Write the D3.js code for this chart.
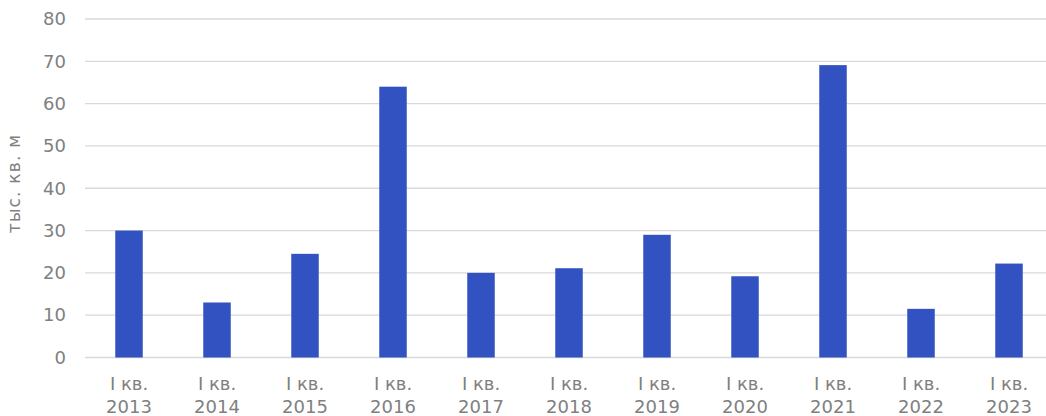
<!DOCTYPE html>
<html><head><meta charset="utf-8">
<script src="https://cdn.jsdelivr.net/npm/d3@7"></script>
<style>body{margin:0;background:#fff}svg{display:block}</style>
</head><body>
<svg id="c" width="1046" height="416"></svg>
<script>
const categories = ["2013","2014","2015","2016","2017","2018","2019","2020","2021","2022","2023"];
const quarterLabel = "I кв.";
const values = [30.0, 13.0, 24.5, 64.0, 20.0, 21.1, 29.0, 19.2, 69.1, 11.5, 22.2];
const yTicks = [0,10,20,30,40,50,60,70,80];
const yTitle = "тыс. кв. м";

const svg = d3.select("#c");
const font = "Verdana, 'DejaVu Sans', sans-serif";
const x = d3.scaleBand().domain(categories).range([85, 1053]).paddingInner(0.6875).paddingOuter(0.34375);
const y = d3.scaleLinear().domain([0,80]).range([357.5, 19]);

const grid = svg.append("g");
grid.selectAll("line").data(yTicks).join("line")
  .attr("x1",85).attr("x2",1046)
  .attr("y1",d=>y(d)).attr("y2",d=>y(d))
  .attr("stroke","#d9d9d9").attr("stroke-width",1.3);

const yAxis = svg.append("g").attr("transform","translate(85,0)")
  .call(d3.axisLeft(y).tickValues(yTicks).tickSize(0).tickPadding(19));
yAxis.select(".domain").remove();
yAxis.selectAll("text").attr("fill","#808080").style("font-family",font).style("font-size","18px");

svg.append("g").selectAll("rect").data(values).join("rect")
  .attr("x",(d,i)=>x(categories[i]))
  .attr("width",x.bandwidth())
  .attr("y",d=>y(d))
  .attr("height",d=>y(0)-y(d))
  .attr("fill","#3352c1");

const xl = svg.append("g");
categories.forEach(c=>{
  const t = xl.append("text").attr("text-anchor","middle")
    .attr("fill","#808080").style("font-family",font).style("font-size","18px");
  t.append("tspan").attr("x",x(c)+x.bandwidth()/2).attr("y",390).text(quarterLabel);
  t.append("tspan").attr("x",x(c)+x.bandwidth()/2).attr("y",412.5).text(c);
});

svg.append("text").attr("transform","translate(19.5,183.5) rotate(-90)")
  .attr("text-anchor","middle").attr("fill","#808080")
  .style("font-family",font).style("font-size","17px").style("letter-spacing","1.2px").text(yTitle);
</script>
</body></html>
